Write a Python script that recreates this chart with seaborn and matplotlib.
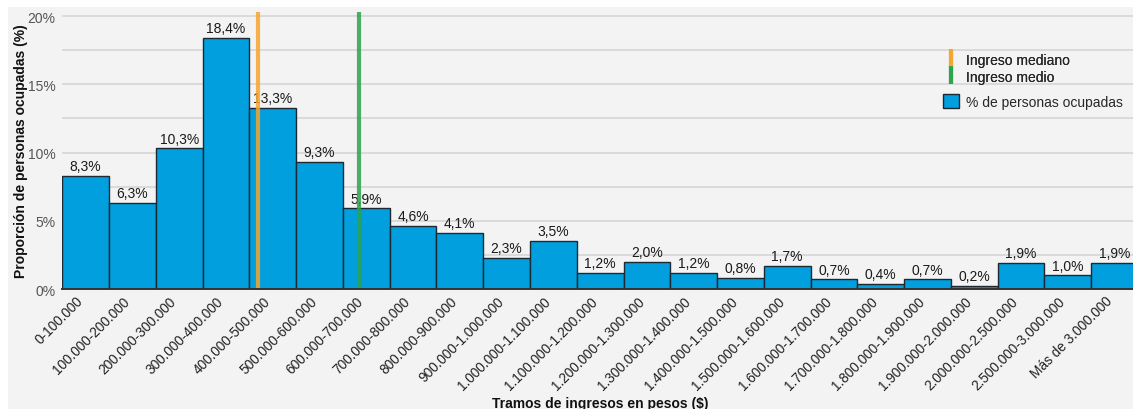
import matplotlib
matplotlib.use("Agg")
import matplotlib.pyplot as plt
from matplotlib.patches import Rectangle, Patch
from matplotlib.lines import Line2D
from matplotlib.ticker import FixedLocator
from matplotlib.transforms import offset_copy
import seaborn as sns
import pandas as pd

# Income brackets (pesos) and share of employed people in each bracket (%)
tramos = [
    "0-100.000", "100.000-200.000", "200.000-300.000", "300.000-400.000",
    "400.000-500.000", "500.000-600.000", "600.000-700.000", "700.000-800.000",
    "800.000-900.000", "900.000-1.000.000", "1.000.000-1.100.000",
    "1.100.000-1.200.000", "1.200.000-1.300.000", "1.300.000-1.400.000",
    "1.400.000-1.500.000", "1.500.000-1.600.000", "1.600.000-1.700.000",
    "1.700.000-1.800.000", "1.800.000-1.900.000", "1.900.000-2.000.000",
    "2.000.000-2.500.000", "2.500.000-3.000.000", "Más de 3.000.000",
]
porcentaje = [8.3, 6.3, 10.3, 18.4, 13.3, 9.3, 5.9, 4.6, 4.1, 2.3, 3.5, 1.2,
              2.0, 1.2, 0.8, 1.7, 0.7, 0.4, 0.7, 0.2, 1.9, 1.0, 1.9]

# Reference incomes (pesos)
ingreso_mediano = 419000
ingreso_medio = 635000
ancho_tramo = 100000  # width of each of the first twenty brackets

df = pd.DataFrame({"tramo": tramos, "pct": porcentaje})

sns.set_theme(style="white")
plt.rcParams["font.family"] = ["Liberation Sans", "DejaVu Sans"]

W, H = 1133, 410
fig = plt.figure(figsize=(W / 100, H / 100), dpi=100, facecolor="white")
bg = "#f3f3f3"
fig.patches.append(Rectangle((8 / W, 0), 1 - 8 / W, 1 - 8 / H,
                             transform=fig.transFigure, facecolor=bg,
                             edgecolor="none", zorder=-10))

left, right = 62.3, 62.3 + 23 * 46.77
top, bottom = 13, 290
ax = fig.add_axes([left / W, (H - bottom) / H, (right - left) / W, (bottom - top) / H])
ax.set_facecolor("none")

bar_color = "#019fde"
edge_color = "#1d2833"
sns.barplot(data=df, x="tramo", y="pct", width=1.0, color=bar_color,
            saturation=1, edgecolor=edge_color, linewidth=1.0, ax=ax, zorder=2)

ax.set_xlim(-0.5, len(tramos) - 0.5)
ax.set_ylim(0, 20.3)

# Value labels above each bar
etiquetas = [f"{v:.1f}".replace(".", ",") + "%" for v in porcentaje]
ax.bar_label(ax.containers[0], labels=etiquetas, padding=2, fontsize=10,
             color="#1a1a1a", zorder=3)

# Median and mean income markers (category axis: bracket i centred at i)
x_med = ingreso_mediano / ancho_tramo - 0.5
x_mean = ingreso_medio / ancho_tramo - 0.5
c_med, c_mean = "#f5a52e", "#2aa34c"
ax.axvline(x_med, color=c_med, lw=3.0, alpha=0.85, zorder=4)
ax.axvline(x_mean, color=c_mean, lw=3.0, alpha=0.85, zorder=4)

# Axis styling
ax.yaxis.set_major_locator(FixedLocator([0, 5, 10, 15, 20]))
ax.yaxis.set_minor_locator(FixedLocator([2.5, 7.5, 12.5, 17.5]))
ax.set_yticklabels([f"{int(t)}%" for t in [0, 5, 10, 15, 20]])
ax.grid(True, axis="y", which="both", color="#d6d6d6", lw=1.2, zorder=0)
ax.set_axisbelow(True)
ax.tick_params(axis="y", which="both", length=0, pad=5, labelsize=10,
               labelcolor="#555555")
ax.tick_params(axis="x", length=0, pad=4, labelsize=9.8, labelcolor="#222222")
for lbl in ax.get_xticklabels():
    lbl.set_rotation(45)
    lbl.set_ha("right")
    lbl.set_va("center")
    lbl.set_rotation_mode("anchor")
    lbl.set_transform(offset_copy(lbl.get_transform(), fig=fig,
                                  x=-5, y=-4, units="dots"))

for s in ["top", "right", "left"]:
    ax.spines[s].set_visible(False)
ax.spines["bottom"].set_color("#333333")
ax.spines["bottom"].set_linewidth(1.4)
ax.spines["bottom"].set_zorder(5)

ax.set_xlabel("Tramos de ingresos en pesos ($)", fontsize=10, fontweight="bold",
              color="#111111")
ax.set_ylabel("Proporción de personas ocupadas (%)", fontsize=10,
              fontweight="bold", color="#111111")
ax.xaxis.set_label_coords(0.5, (bottom - 397) / (bottom - top))
ax.yaxis.set_label_coords((28 - left) / (right - left), 0.5)

# Legend: reference lines, then the bar series
h_lines = [
    Line2D([], [], color=c_med, alpha=0.85, marker="|", markersize=12.5,
           markeredgewidth=3, linestyle="none"),
    Line2D([], [], color=c_mean, alpha=0.85, marker="|", markersize=12.5,
           markeredgewidth=3, linestyle="none"),
]
leg1 = fig.legend(h_lines, ["Ingreso mediano", "Ingreso medio"],
                  loc="upper left", bbox_to_anchor=(943 / W, 1 - 53 / H),
                  frameon=False, fontsize=10, handlelength=1.15,
                  handleheight=1.2, handletextpad=0.5, labelspacing=0.2,
                  borderpad=0, borderaxespad=0)
h_bar = [Patch(facecolor=bar_color, edgecolor=edge_color, linewidth=1.0)]
leg2 = fig.legend(h_bar, ["% de personas ocupadas"], loc="upper left",
                  bbox_to_anchor=(943 / W, 1 - 95 / H), frameon=False,
                  fontsize=10, handlelength=1.15, handleheight=1.15,
                  handletextpad=0.5, borderpad=0, borderaxespad=0)
fig.add_artist(leg1)

fig.savefig("out.png", dpi=100, facecolor="white")
